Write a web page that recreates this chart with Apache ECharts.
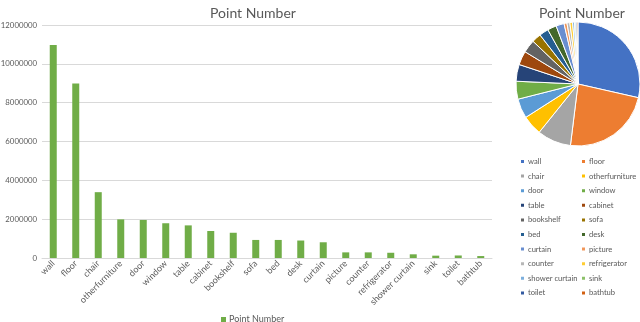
<!DOCTYPE html>
<html><head><meta charset="utf-8">
<script src="https://cdn.jsdelivr.net/npm/echarts@6/dist/echarts.min.js"></script>
<style>html,body{margin:0;padding:0;background:#fff}#c{width:640px;height:322px}</style>
</head><body><div id="c"></div>
<script>
const categories = ['wall','floor','chair','otherfurniture','door','window','table','cabinet','bookshelf','sofa','bed','desk','curtain','picture','counter','refrigerator','shower curtain','sink','toilet','bathtub'];
const pointNumber = [10970000,8990000,3390000,1990000,1960000,1790000,1680000,1390000,1300000,930000,930000,900000,810000,290000,290000,270000,190000,120000,130000,100000];
const yTicks = [0,2000000,4000000,6000000,8000000,10000000,12000000];
const pieColors = ['#4472C4','#ED7D31','#A5A5A5','#FFC000','#5B9BD5','#70AD47','#264478','#9E480E','#636363','#997300','#255E91','#43682B','#698ED0','#F1975A','#B7B7B7','#FFCD33','#7CAFDD','#8CC168','#335AA1','#D26012'];

const font = 'Lato, "Open Sans", sans-serif';
const grey = '#595959';
const chart = echarts.init(document.getElementById('c'));
const leftCol = categories.filter((c,i)=>i%2===0);
const rightCol = categories.filter((c,i)=>i%2===1);
const legendCommon = {orient:'vertical', itemWidth:5, itemHeight:5, itemGap:5.6, icon:'rect',
  textStyle:{fontSize:7.6, lineHeight:9, color:grey, fontFamily:font, padding:[0,0,0,-2], overflow:'none'}, selectedMode:false, padding:0};
chart.setOption({
  animation:false,
  textStyle:{fontFamily:font},
  title:[
    {text:'Point Number', left:248, top:1, textAlign:'center', textStyle:{fontSize:14, fontWeight:'normal', color:grey, fontFamily:font}},
    {text:'Point Number', left:577, top:1, textAlign:'center', textStyle:{fontSize:14, fontWeight:'normal', color:grey, fontFamily:font}}
  ],
  legend:[
    {data:['Point Number'], left:221, top:315, itemWidth:5, itemHeight:5, icon:'rect', padding:0,
     textStyle:{fontSize:9, color:grey, fontFamily:font, padding:[0,0,0,-2]}, selectedMode:false},
    Object.assign({data:leftCol, left:519, top:157}, legendCommon),
    Object.assign({data:rightCol, left:580, top:157}, legendCommon)
  ],
  grid:{left:42, right:148, top:25, bottom:64, containLabel:false, outerBoundsMode:'none'},
  xAxis:{type:'category', data:categories,
    axisLine:{lineStyle:{color:'#D9D9D9'}}, axisTick:{show:false},
    axisLabel:{rotate:45, fontSize:9, color:grey, margin:4, interval:0, fontFamily:font}},
  yAxis:{type:'value', min:yTicks[0], max:yTicks[yTicks.length-1], interval:yTicks[1]-yTicks[0],
    axisLine:{show:false}, axisTick:{show:false},
    axisLabel:{fontSize:7.8, color:grey, margin:5, fontFamily:font, formatter:v=>String(v)},
    splitLine:{lineStyle:{color:'#D9D9D9'}}},
  series:[
    {name:'Point Number', type:'bar', data:pointNumber, barWidth:7,
     itemStyle:{color:'#70AD47'}},
    {name:'pie', type:'pie', center:[578,84], radius:[0,62], startAngle:90, clockwise:true,
     label:{show:false}, labelLine:{show:false},
     itemStyle:{borderColor:'#fff', borderWidth:1},
     data:categories.map((c,i)=>({name:c, value:pointNumber[i], itemStyle:{color:pieColors[i]}}))}
  ]
});
</script></body></html>
